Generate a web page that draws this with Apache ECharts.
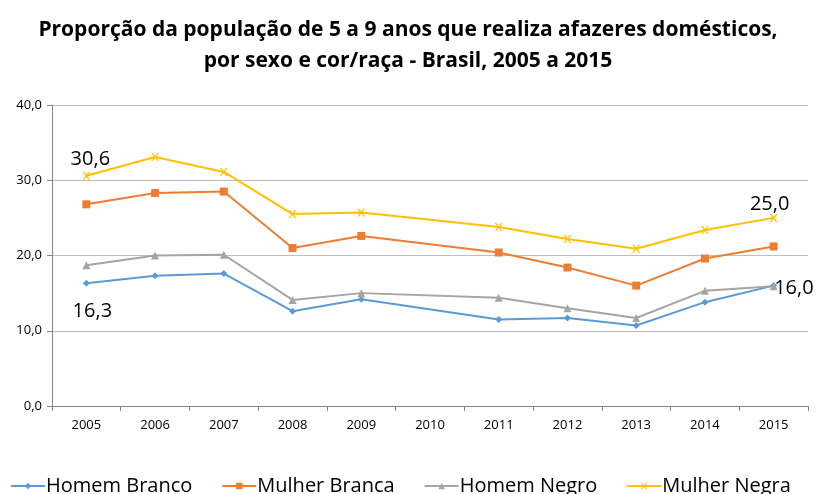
<!DOCTYPE html>
<html>
<head>
<meta charset="utf-8">
<script src="https://cdn.jsdelivr.net/npm/echarts@6/dist/echarts.min.js"></script>
<style>
  html, body { margin: 0; padding: 0; background: #fff; }
  #chart { width: 816px; height: 494px; }
</style>
</head>
<body>
<div id="chart"></div>
<script>
// anos (2010 sem dado)
var anos = ['2005', '2006', '2007', '2008', '2009', '2010', '2011', '2012', '2013', '2014', '2015'];
var homemBranco = [16.3, 17.3, 17.6, 12.6, 14.2, null, 11.5, 11.7, 10.7, 13.8, 16.0];
var mulherBranca = [26.8, 28.3, 28.5, 21.0, 22.6, null, 20.4, 18.4, 16.0, 19.6, 21.2];
var homemNegro = [18.7, 20.0, 20.1, 14.1, 15.0, null, 14.4, 13.0, 11.7, 15.3, 15.9];
var mulherNegra = [30.6, 33.1, 31.1, 25.5, 25.7, null, 23.8, 22.2, 20.9, 23.4, 25.0];
var nomes = ['Homem Branco', 'Mulher Branca', 'Homem Negro', 'Mulher Negra'];
var cores = ['#5B9BD5', '#ED7D31', '#A5A5A5', '#FFC000'];

var fonte = '"Open Sans", sans-serif';

function virgula(v) { return v.toFixed(1).replace('.', ','); }

// rotulo de um ponto so
function rotulo(valores, idx, pos, offset) {
    return valores.map(function (v, i) {
        if (i !== idx) return v;
        return {
            value: v,
            label: {
                show: true,
                position: pos,
                offset: offset,
                fontSize: 20,
                color: '#000',
                fontFamily: fonte,
                formatter: function (p) { return virgula(p.value); }
            }
        };
    });
}

function serie(nome, dados, cor, simbolo, tam) {
    return {
        name: nome,
        type: 'line',
        data: dados,
        connectNulls: true,
        symbol: simbolo,
        symbolSize: tam,
        lineStyle: { color: cor, width: 2 },
        itemStyle: { color: cor },
        emphasis: { disabled: true }
    };
}

var xSym = 'path://M0,0L2,0L5,3L8,0L10,0L6,4L10,8L8,8L5,5L2,8L0,8L4,4Z';

// rotulos: primeiro e ultimo ano
var dHB = rotulo(rotulo(homemBranco, 0, 'bottom', [6, 9]), 10, 'right', [-8, 3]);
var dMN = rotulo(rotulo(mulherNegra, 0, 'top', [4, 3]), 10, 'top', [-4, 5]);

var chart = echarts.init(document.getElementById('chart'));
var option = {
    animation: false,
    color: cores,
    title: {
        text: 'Proporção da população de 5 a 9 anos que realiza afazeres domésticos,\npor sexo e cor/raça - Brasil, 2005 a 2015',
        left: 'center',
        top: 10,
        textStyle: { fontFamily: fonte, fontWeight: 'bold', fontSize: 21, lineHeight: 31, color: '#000' }
    },
    legend: {
        data: nomes,
        top: 476,
        left: 10,
        padding: 0,
        itemGap: 29,
        itemWidth: 34,
        itemHeight: 8,
        textStyle: { fontFamily: fonte, fontSize: 20, color: '#000', padding: [0, 0, 0, -4] }
    },
    grid: { left: 52, right: 8, top: 105, bottom: 88 },
    xAxis: {
        type: 'category',
        data: anos,
        boundaryGap: true,
        axisLine: { lineStyle: { color: '#868686' } },
        axisTick: { show: true, alignWithLabel: false, lineStyle: { color: '#868686' } },
        axisLabel: { fontFamily: fonte, fontSize: 13, color: '#000', margin: 13 }
    },
    yAxis: {
        type: 'value',
        min: 0,
        max: 40,
        interval: 10,
        axisLine: { show: true, lineStyle: { color: '#868686' } },
        axisTick: { show: true, length: 5, lineStyle: { color: '#868686' } },
        splitLine: { lineStyle: { color: '#BFBFBF', width: 1 } },
        axisLabel: {
            fontFamily: fonte, fontSize: 13, color: '#000', margin: 10,
            formatter: virgula
        }
    },
    series: [
        serie(nomes[0], dHB, cores[0], 'diamond', 7),
        serie(nomes[1], mulherBranca, cores[1], 'rect', 8),
        serie(nomes[2], homemNegro, cores[2], 'triangle', 8),
        serie(nomes[3], dMN, cores[3], xSym, 8)
    ]
};
chart.setOption(option);
</script>
</body>
</html>
